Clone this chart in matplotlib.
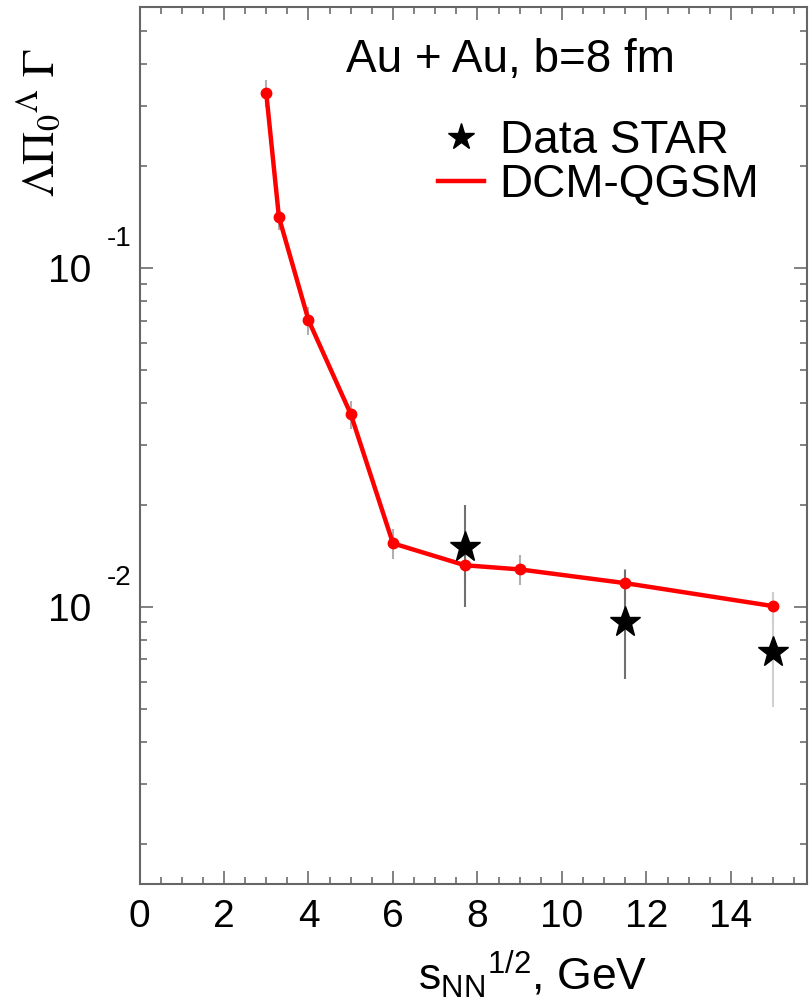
import numpy as np
import matplotlib.pyplot as plt
from matplotlib.ticker import MultipleLocator, LogLocator, NullFormatter, FuncFormatter
from matplotlib.lines import Line2D

plt.rcParams['font.family'] = ['Liberation Sans', 'DejaVu Sans']
plt.rcParams['mathtext.fontset'] = 'custom'
plt.rcParams['mathtext.rm'] = 'Liberation Sans'
plt.rcParams['mathtext.it'] = 'Liberation Sans:italic'
plt.rcParams['mathtext.bf'] = 'Liberation Sans:bold'

# DCM-QGSM Modell
sqrt_s_model = [3.0, 3.3, 4.0, 5.0, 6.0, 7.7, 9.0, 11.5, 15.0]
ratio_model = [0.329, 0.1415, 0.0702, 0.0371, 0.0154, 0.01327, 0.0129, 0.01175, 0.01005]
ratio_model_err = [0.030, 0.012, 0.0067, 0.0035, 0.0016, 0.0013, 0.0013, 0.0012, 0.0010]

# STAR Daten
sqrt_s_star = [7.7, 11.5, 15.0]
ratio_star = [0.0150, 0.00903, 0.00735]
ratio_star_lo = [0.0050, 0.0029, 0.0023]
ratio_star_hi = [0.0050, 0.0038, 0.0037]
star_bar_colors = ['#707070', '#707070', '#d0d0d0']

ytick_vals = [0.01, 0.1]
ytick_exps = ['-2', '-1']

fig = plt.figure(figsize=(8.12, 9.99), dpi=100)
ax = fig.add_axes([0.1718, 0.1151, 0.822, 0.8779])

# Fehlerbalken Modell
m_y = np.array(ratio_model)
m_e = np.array(ratio_model_err)
ax.vlines(sqrt_s_model, m_y - m_e, m_y + m_e, colors='#b0b0b0', lw=1.5, zorder=2)

# Fehlerbalken STAR
s_y = np.array(ratio_star)
ax.vlines(sqrt_s_star, s_y - np.array(ratio_star_lo), s_y + np.array(ratio_star_hi),
          colors=star_bar_colors, lw=1.5, zorder=2)

ax.plot(sqrt_s_model, ratio_model, color='red', lw=3.2, marker='o', ms=7.5, zorder=3)
ax.plot(sqrt_s_star, ratio_star, ls='none', marker='*', ms=23, color='black', zorder=4)

ax.set_yscale('log')
ax.set_xlim(0, 15.8)
ax.set_ylim(0.00152, 0.59)

# Achsen / Ticks
for sp in ax.spines.values():
    sp.set_color('#666666')
    sp.set_linewidth(1.5)
ax.xaxis.set_major_locator(MultipleLocator(2))
ax.xaxis.set_minor_locator(MultipleLocator(0.5))
ax.yaxis.set_major_locator(LogLocator(base=10))
ax.yaxis.set_minor_locator(LogLocator(base=10, subs=np.arange(2, 10)))
ax.yaxis.set_minor_formatter(NullFormatter())
ax.yaxis.set_major_formatter(FuncFormatter(lambda v, p: '10'))
ax.tick_params(which='both', direction='in', top=True, right=True,
               color='#777777', width=1.3, labelsize=28)
ax.tick_params(which='major', length=9.4)
ax.tick_params(which='minor', length=5)
ax.tick_params(axis='x', pad=11)
ax.tick_params(axis='y', pad=35)

for v, e in zip(ytick_vals, ytick_exps):
    ax.annotate(e, xy=(0, v), xycoords=('axes fraction', 'data'),
                xytext=(-23.4, 20.9), textcoords='offset points',
                ha='left', va='center', fontsize=20)

# Beschriftungen
fig.text(418 / 812, 9 / 999, r'$\mathrm{s}_{\mathrm{NN}}{}^{\mathrm{1/2}}$, GeV',
         fontsize=32, ha='left', va='baseline')
fig.text(40 / 812, 1 - 48 / 999, r'$\Lambda\Pi_0{}^{\Lambda}\ \Gamma$', rotation=90,
         ha='center', va='top', fontsize=33, math_fontfamily='stix')
fig.text(346 / 812, 1 - 72 / 999, 'Au + Au, b=8 fm', fontsize=33, ha='left', va='baseline')

handles = [Line2D([], [], ls='none', marker='*', color='black', ms=20),
           Line2D([], [], color='red', lw=3.2)]
ax.legend(handles, ['Data STAR', 'DCM-QGSM'], loc='upper left',
          bbox_to_anchor=(0.447, 0.872), frameon=False, fontsize=33,
          handlelength=1.0, handletextpad=0.35, labelspacing=0.0,
          borderpad=0, borderaxespad=0)

fig.savefig('out.png', dpi=100)
